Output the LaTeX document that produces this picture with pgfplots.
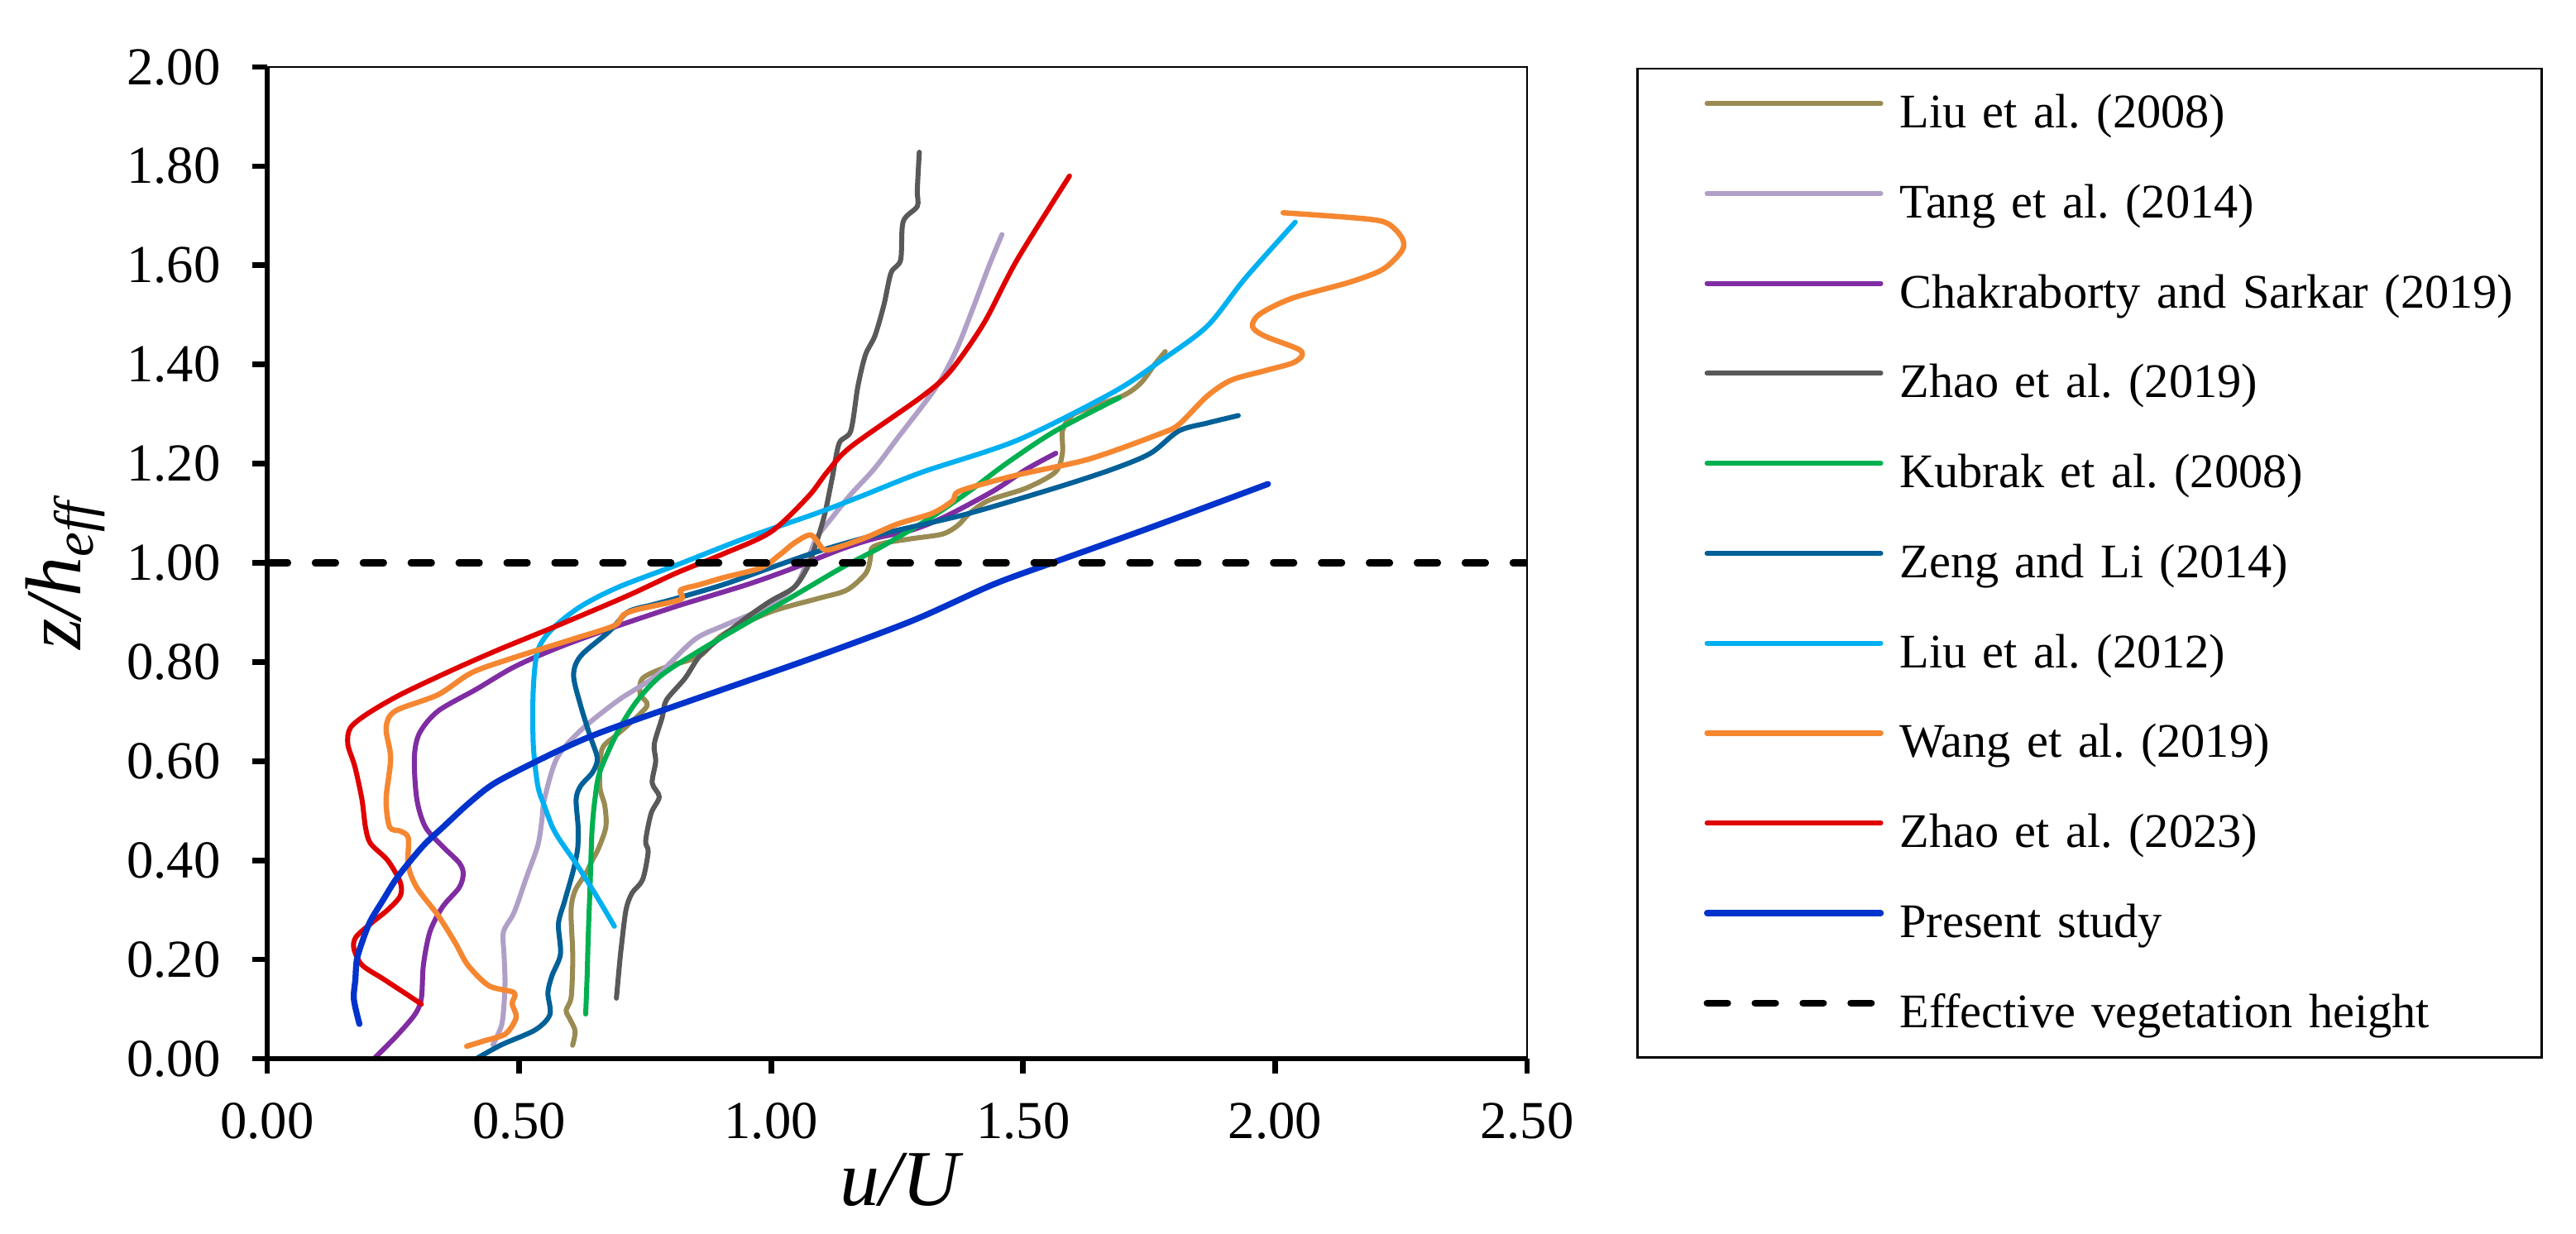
\documentclass[border=0pt]{standalone}
\usepackage{fontspec}
\setmainfont{Liberation Serif}
\usepackage{pgfplots}
\pgfplotsset{compat=1.18}
\frenchspacing

% Farben der Profile
\definecolor{liuA}{RGB}{153,139,82}
\definecolor{tang}{RGB}{176,160,199}
\definecolor{chak}{RGB}{128,44,162}
\definecolor{zhaoA}{RGB}{89,89,89}
\definecolor{kubrak}{RGB}{0,176,80}
\definecolor{zeng}{RGB}{0,96,152}
\definecolor{liuB}{RGB}{0,176,240}
\definecolor{wang}{RGB}{245,135,49}
\definecolor{zhaoB}{RGB}{224,0,0}
\definecolor{present}{RGB}{0,51,204}

\begin{document}
\begin{tikzpicture}
\useasboundingbox (-77.52pt,-50.88pt) rectangle (669.84pt,307.2pt);
\begin{axis}[
    scale only axis,
    width=365.52pt, height=287.76pt,
    xmin=0, xmax=2.5, ymin=0, ymax=2,
    xtick={0,0.5,...,2.5},
    ytick={0,0.2,...,2.0},
    scaled ticks=false,
    /pgf/number format/.cd, fixed, fixed zerofill, precision=2, assume math mode=true,
    /pgfplots/.cd,
    axis line style={line width=0.65pt, black},
    tick pos=left,
    tick align=outside,
    major tick length=4.4pt,
    major tick style={line width=1.6pt, black},
    ticklabel style={font=\fontsize{15.5}{18}\selectfont, inner sep=0pt},
    xticklabel shift=8.3pt,
    yticklabel shift=9pt,
    xlabel={\fontsize{23}{27}\selectfont\itshape u/U},
    ylabel={\fontsize{23}{27}\selectfont\itshape z/h\textsubscript{eff}},
    xlabel style={at={(axis description cs:0.502,-0.1484)}, anchor=base},
    ylabel style={at={(axis description cs:-0.1483,0.488)}, anchor=base, rotate=0},
    every axis plot/.append style={line width=1.45pt, line cap=round, line join=round},
    legend style={
        at={(axis description cs:1.0867,0.9994)}, anchor=north west,
        draw=black, line width=0.65pt,
        inner xsep=0pt, inner ysep=6.2pt,
        font=\fontsize{14}{16}\selectfont,
        row sep=12.6pt, column sep=4.1pt,
        nodes={inner sep=0pt, text height=11pt, text depth=2.5pt, text width=186.2pt, align=left},
    },
    legend cell align=left,
    legend image code/.code={
        \path[draw=none, fill=none] (0pt,0pt) -- (72pt,0pt);
        \draw[#1] (20.2pt,0.285em) -- (70.6pt,0.285em);
    },
    extra description/.code={
        \draw[line width=1.6pt, black] (axis description cs:0,1) -- (axis description cs:0,0) -- (axis description cs:1,0);
    },
]

% Liu et al. (2008)
\addplot[liuA, smooth] coordinates {
(0.606,0.027) (0.611,0.056) (0.599,0.083) (0.593,0.097) (0.603,0.122) (0.606,0.180)
(0.606,0.222) (0.603,0.300) (0.611,0.339) (0.632,0.373) (0.645,0.400) (0.657,0.423)
(0.672,0.467) (0.670,0.510) (0.660,0.550) (0.664,0.623) (0.690,0.650) (0.716,0.673)
(0.754,0.712) (0.740,0.735) (0.745,0.767) (0.792,0.790) (0.858,0.812) (0.905,0.856)
(0.999,0.901) (1.093,0.928) (1.150,0.945) (1.188,0.979) (1.197,1.009) (1.200,1.030)
(1.225,1.040) (1.281,1.049) (1.340,1.058) (1.370,1.075) (1.394,1.100) (1.432,1.126)
(1.507,1.151) (1.564,1.183) (1.578,1.221) (1.578,1.266) (1.592,1.292) (1.611,1.305)
(1.696,1.336) (1.733,1.362) (1.761,1.400) (1.782,1.426)
};
\addlegendentry{Liu et al. (2008)}

% Tang et al. (2014)
\addplot[tang, smooth] coordinates {
(0.448,0.028) (0.465,0.067) (0.470,0.110) (0.472,0.156) (0.470,0.210) (0.469,0.256)
(0.490,0.295) (0.515,0.367) (0.537,0.430) (0.545,0.480) (0.550,0.523) (0.575,0.606)
(0.622,0.662) (0.697,0.723) (0.773,0.773) (0.848,0.845) (0.905,0.873) (0.980,0.906)
(1.046,0.951) (1.070,1.000) (1.090,1.050) (1.120,1.090) (1.158,1.138) (1.205,1.190)
(1.252,1.253) (1.328,1.355) (1.366,1.426) (1.394,1.496) (1.432,1.598) (1.458,1.662)
};
\addlegendentry{Tang et al. (2014)}

% Chakraborty and Sarkar (2019)
\addplot[chak, smooth] coordinates {
(0.212,0.000) (0.255,0.044) (0.293,0.089) (0.306,0.122) (0.310,0.189) (0.323,0.256)
(0.348,0.306) (0.381,0.345) (0.389,0.373) (0.381,0.395) (0.348,0.428) (0.314,0.467)
(0.297,0.523) (0.292,0.606) (0.302,0.656) (0.339,0.701) (0.415,0.745) (0.490,0.790)
(0.575,0.828) (0.679,0.867) (0.811,0.912) (0.952,0.956) (1.046,0.990) (1.140,1.028)
(1.205,1.049) (1.282,1.067) (1.347,1.094) (1.441,1.145) (1.507,1.189) (1.565,1.221)
};
\addlegendentry{Chakraborty and Sarkar (2019)}

% Zhao et al. (2019)
\addplot[zhaoA, smooth] coordinates {
(0.693,0.122) (0.699,0.189) (0.703,0.228) (0.712,0.300) (0.724,0.334) (0.745,0.361)
(0.756,0.417) (0.751,0.439) (0.762,0.495) (0.778,0.528) (0.764,0.556) (0.771,0.600)
(0.768,0.634) (0.784,0.689) (0.792,0.723) (0.829,0.767) (0.858,0.812) (0.895,0.845)
(0.952,0.890) (0.999,0.923) (1.046,0.951) (1.074,0.995) (1.093,1.051) (1.107,1.101)
(1.121,1.170) (1.135,1.241) (1.158,1.266) (1.172,1.355) (1.187,1.419) (1.206,1.458)
(1.224,1.521) (1.238,1.585) (1.257,1.611) (1.262,1.688) (1.290,1.719) (1.290,1.751)
(1.294,1.828)
};
\addlegendentry{Zhao et al. (2019)}

% Kubrak et al. (2008)
\addplot[kubrak, smooth] coordinates {
(0.632,0.090) (0.635,0.170) (0.637,0.245) (0.641,0.356) (0.643,0.420) (0.645,0.467)
(0.650,0.520) (0.660,0.578) (0.697,0.662) (0.735,0.723) (0.782,0.773) (0.858,0.823)
(0.952,0.879) (1.046,0.934) (1.140,0.990) (1.220,1.033) (1.315,1.090) (1.394,1.145)
(1.469,1.202) (1.564,1.266) (1.691,1.333)
};
\addlegendentry{Kubrak et al. (2008)}

% Zeng and Li (2014)
\addplot[zeng, smooth] coordinates {
(0.415,0.000) (0.465,0.028) (0.532,0.058) (0.561,0.089) (0.557,0.133) (0.565,0.167)
(0.582,0.211) (0.578,0.272) (0.590,0.317) (0.607,0.378) (0.616,0.423) (0.617,0.467)
(0.613,0.523) (0.622,0.550) (0.646,0.578) (0.655,0.606) (0.641,0.650) (0.622,0.712)
(0.608,0.773) (0.622,0.812) (0.679,0.862) (0.716,0.901) (0.763,0.915) (0.811,0.928)
(0.905,0.956) (0.999,0.990) (1.093,1.023) (1.188,1.051) (1.282,1.073) (1.394,1.100)
(1.564,1.151) (1.678,1.189) (1.753,1.221) (1.809,1.266) (1.866,1.282) (1.927,1.297)
};
\addlegendentry{Zeng and Li (2014)}

% Liu et al. (2012)
\addplot[liuB, smooth] coordinates {
(0.689,0.267) (0.657,0.322) (0.616,0.389) (0.582,0.439) (0.566,0.467) (0.550,0.510)
(0.537,0.550) (0.528,0.634) (0.528,0.745) (0.537,0.823) (0.566,0.867) (0.622,0.912)
(0.697,0.951) (0.811,0.995) (0.952,1.051) (1.093,1.101) (1.178,1.134) (1.300,1.183)
(1.488,1.247) (1.677,1.343) (1.771,1.406) (1.865,1.477) (1.940,1.573) (2.040,1.687)
};
\addlegendentry{Liu et al. (2012)}

% Wang et al. (2019)
\addplot[wang, smooth, line width=1.55pt] coordinates {
(0.396,0.025) (0.431,0.036) (0.473,0.050) (0.494,0.083) (0.486,0.111) (0.490,0.133)
(0.440,0.147) (0.398,0.189) (0.373,0.234) (0.339,0.289) (0.297,0.345) (0.280,0.389)
(0.280,0.445) (0.264,0.459) (0.243,0.467) (0.236,0.523) (0.245,0.606) (0.236,0.667)
(0.254,0.701) (0.339,0.734) (0.405,0.778) (0.481,0.806) (0.603,0.845) (0.688,0.873)
(0.707,0.895) (0.735,0.906) (0.820,0.926) (0.820,0.945) (0.858,0.956) (0.905,0.970)
(0.980,0.990) (1.018,1.017) (1.046,1.040) (1.079,1.056) (1.103,1.028) (1.122,1.028)
(1.188,1.051) (1.250,1.078) (1.320,1.100) (1.360,1.125) (1.375,1.145) (1.488,1.177)
(1.630,1.209) (1.771,1.260) (1.809,1.279) (1.865,1.336) (1.912,1.368) (1.978,1.387)
(2.035,1.403) (2.054,1.419) (2.044,1.432) (1.978,1.458) (1.955,1.477) (1.970,1.502)
(2.035,1.534) (2.148,1.566) (2.214,1.592) (2.252,1.630) (2.252,1.655) (2.224,1.684)
(2.177,1.694) (2.016,1.706)
};
\addlegendentry{Wang et al. (2019)}

% Zhao et al. (2023)
\addplot[zhaoB, smooth] coordinates {
(0.306,0.110) (0.272,0.133) (0.230,0.161) (0.188,0.189) (0.172,0.222) (0.176,0.245)
(0.205,0.272) (0.239,0.300) (0.264,0.328) (0.264,0.356) (0.239,0.400) (0.205,0.434)
(0.195,0.467) (0.188,0.523) (0.174,0.589) (0.160,0.634) (0.165,0.667) (0.198,0.695)
(0.264,0.734) (0.368,0.784) (0.462,0.826) (0.575,0.873) (0.716,0.934) (0.811,0.979)
(0.905,1.018) (0.999,1.062) (1.074,1.134) (1.111,1.183) (1.158,1.234) (1.300,1.336)
(1.356,1.387) (1.422,1.483) (1.488,1.611) (1.592,1.780)
};
\addlegendentry{Zhao et al. (2023)}

% Present study
\addplot[present, smooth, line width=1.75pt] coordinates {
(0.183,0.070) (0.172,0.120) (0.175,0.160) (0.178,0.200) (0.190,0.240) (0.205,0.278)
(0.230,0.320) (0.255,0.361) (0.285,0.400) (0.314,0.434) (0.349,0.467) (0.400,0.515)
(0.452,0.556) (0.547,0.606) (0.630,0.645) (0.716,0.678) (0.905,0.745) (1.093,0.812)
(1.282,0.884) (1.440,0.956) (1.558,1.000) (1.750,1.070) (1.986,1.159)
};
\addlegendentry{Present study}

% Effective vegetation height
\addplot[black, line width=1.95pt, line cap=round, dash pattern=on 6pt off 7.9pt] coordinates {(0,1) (2.5,1)};
\addlegendentry{Effective vegetation height}

\end{axis}
\end{tikzpicture}
\end{document}
